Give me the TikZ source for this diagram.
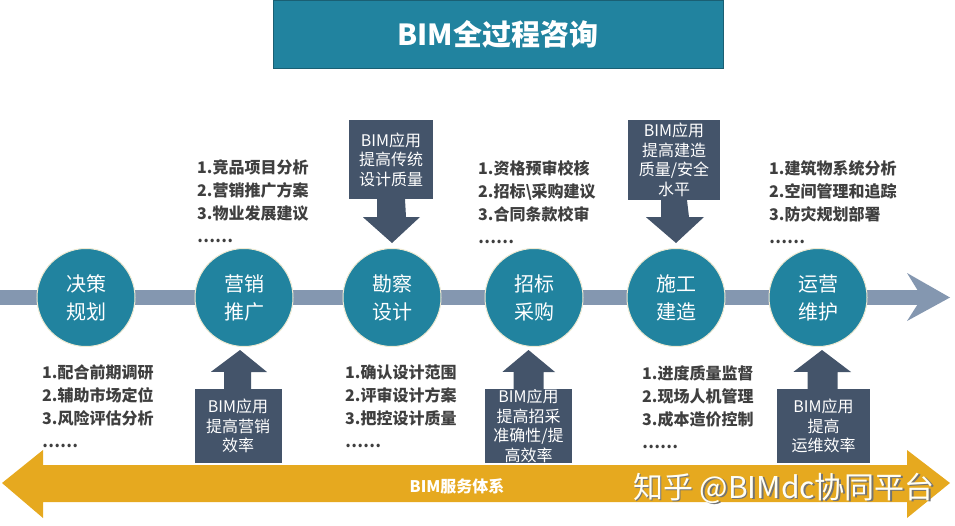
\documentclass[tikz,border=0pt]{standalone}
\usepackage{fontspec}
\setmainfont{Noto Sans CJK SC}
\definecolor{cteal}{HTML}{21839F}
\definecolor{ctealdark}{HTML}{1A5F73}
\definecolor{cbar}{HTML}{8497B0}
\definecolor{cbox}{HTML}{44546A}
\definecolor{cgold}{HTML}{E6A91F}
\definecolor{ctext}{HTML}{3F3F3F}
\definecolor{chalo}{HTML}{EFEAD2}
\tikzset{
  circ/.style={circle, fill=cteal, draw=chalo, line width=1pt, minimum size=98pt, inner sep=0pt,
    text=white, align=center, font=\fontsize{20}{28}\selectfont},
  listtext/.style={anchor=north west, inner sep=0pt, align=left, text=ctext,
    font=\bfseries\fontsize{16}{23}\selectfont},
  bimbox/.style={rectangle, fill=cbox, inner sep=0pt, text=white, align=center,
    font=\fontsize{16}{19.5}\selectfont},
  titlebox/.style={rectangle, fill=cteal, draw=ctealdark, line width=0.8pt, inner sep=0pt,
    minimum width=450pt, minimum height=68pt, text=white, font=\bfseries\fontsize{29}{34}\selectfont},
}
\begin{document}
\begin{tikzpicture}[x=1pt,y=-1pt]
\useasboundingbox (0,0) rectangle (955,525);
% title
\node[titlebox] (title) at (498,34) {BIM全过程咨询};
% main bar
\coordinate (barstart) at (0,297.5);
\coordinate (barend) at (926,297.5);
\draw[cbar, line width=15pt] (barstart) -- (barend);
\fill[cbar] (907,273) -- (950,297.5) -- (907,321) -- (922,297.5) -- cycle;
% yellow double arrow
\fill[cgold] (2,483) -- (43,450) -- (43,465) -- (907,465) -- (907,450) -- (950,483)
  -- (907,518) -- (907,502) -- (43,502) -- (43,518) -- cycle;
\node[text=white, font=\bfseries\fontsize{16}{18}\selectfont] (svc) at (457,486) {BIM服务体系};
% circles
\node[circ] (c1) at (86,297.5) {决策\\规划};
\node[circ] (c2) at (244,297.5) {营销\\推广};
\node[circ] (c3) at (392,297.5) {勘察\\设计};
\node[circ] (c4) at (534,297.5) {招标\\采购};
\node[circ] (c5) at (676,297.5) {施工\\建造};
\node[circ] (c6) at (818,297.5) {运营\\维护};
% top lists
\node[listtext] (l2) at (197,160) {1.竞品项目分析\\2.营销推广方案\\3.物业发展建议\\……};
\node[listtext] (l4) at (478,160) {1.资格预审校核\\2.招标\textbackslash 采购建议\\3.合同条款校审\\……};
\node[listtext] (l6) at (769,160) {1.建筑物系统分析\\2.空间管理和追踪\\3.防灾规划部署\\……};
% bottom lists
\node[listtext] (l1) at (42,365) {1.配合前期调研\\2.辅助市场定位\\3.风险评估分析\\……};
\node[listtext] (l3) at (345,365) {1.确认设计范围\\2.评审设计方案\\3.把控设计质量\\……};
\node[listtext] (l5) at (642,365) {1.进度质量监督\\2.现场人机管理\\3.成本造价控制\\……};
% down arrows
\node[bimbox, minimum width=84pt, minimum height=79pt] (b3) at (391,159.5) {BIM应用\\提高传统\\设计质量};
\fill[cbox] ([xshift=-14pt]b3.south) -- ++(0,18) -- ++(-14,0) -- (c3.north |- 0,243) -- ++(28,-26) -- ++(-14,0) -- ([xshift=14pt]b3.south) -- cycle;
\node[bimbox, minimum width=92pt, minimum height=80pt] (b5) at (674,160) {BIM应用\\提高建造\\质量/安全\\水平};
\fill[cbox] ([xshift=-13pt]b5.south) -- ++(0,17) -- ++(-15,0) -- (c5.north |- 0,243) -- ++(28,-26) -- ++(-15,0) -- ([xshift=13pt]b5.south) -- cycle;
% up arrows
\node[bimbox, minimum width=87pt, minimum height=74pt] (b2) at (238,426) {BIM应用\\提高营销\\效率};
\fill[cbox] ([xshift=-14pt]b2.north) -- ++(0,-17) -- ++(-13,0) -- (240,350) -- (267,372) -- ([xshift=13pt]b2.north |- 0,372) -- ([xshift=13pt]b2.north) -- cycle;
\node[bimbox, minimum width=87pt, minimum height=74pt] (b4) at (528.5,426) {BIM应用\\提高招采\\准确性/提\\高效率};
\fill[cbox] ([xshift=-15pt]b4.north) -- ++(0,-17) -- ++(-11,0) -- (528.5,350) -- (555,372) -- ([xshift=15pt]b4.north |- 0,372) -- ([xshift=15pt]b4.north) -- cycle;
\node[bimbox, minimum width=93pt, minimum height=74pt] (b6) at (823.5,426) {BIM应用\\提高\\运维效率};
\fill[cbox] ([xshift=-16pt]b6.north) -- ++(0,-17) -- ++(-14,0) -- (822,350) -- (851,372) -- ([xshift=14pt]b6.north |- 0,372) -- ([xshift=14pt]b6.north) -- cycle;
% watermark
\node[text=black!55, font=\fontsize{30}{34}\selectfont] (wms) at (785.5,489.5) {知乎 @BIMdc协同平台};
\node[text=white!96!yellow, font=\fontsize{30}{34}\selectfont] (wm) at (784,488) {知乎 @BIMdc协同平台};
\end{tikzpicture}
\end{document}
